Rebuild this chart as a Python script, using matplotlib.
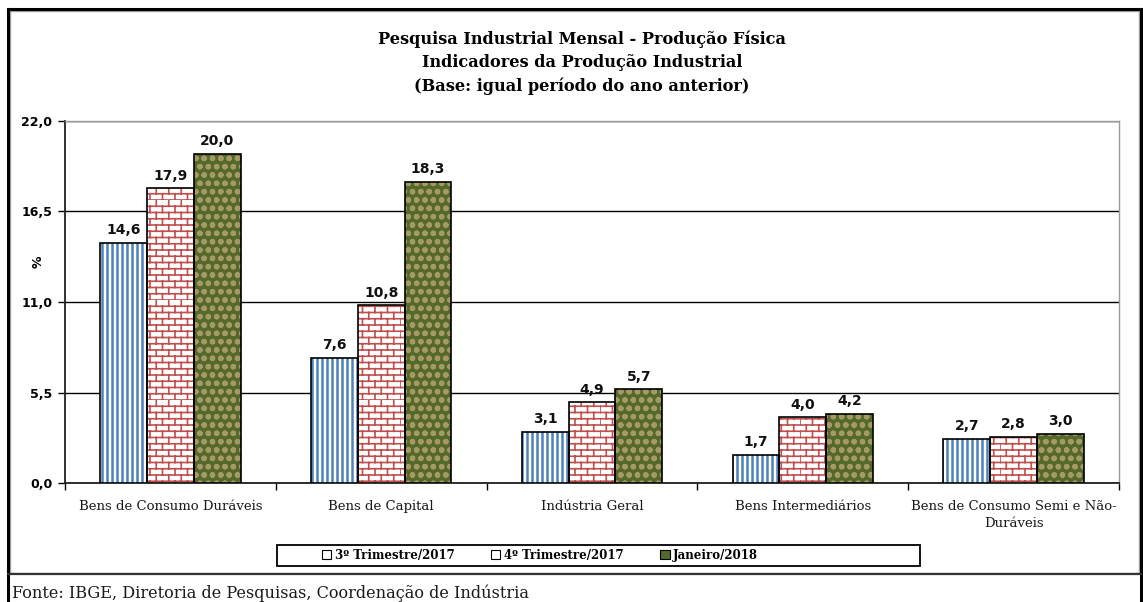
import warnings
import numpy as np
import matplotlib
matplotlib.use("Agg")
import matplotlib.pyplot as plt
import matplotlib.hatch as mhatch
from matplotlib.path import Path
from matplotlib.patches import Patch, Rectangle
from matplotlib.lines import Line2D

warnings.filterwarnings("ignore")

categorias = ["Bens de Consumo Duráveis", "Bens de Capital", "Indústria Geral",
              "Bens Intermediários", "Bens de Consumo Semi e Não-\nDuráveis"]
tri3_2017 = [14.6, 7.6, 3.1, 1.7, 2.7]
tri4_2017 = [17.9, 10.8, 4.9, 4.0, 2.8]
jan_2018 = [20.0, 18.3, 5.7, 4.2, 3.0]
series_nomes = ["3º Trimestre/2017", "4º Trimestre/2017", "Janeiro/2018"]
y_ticks = [0.0, 5.5, 11.0, 16.5, 22.0]


# hachura de tijolos (nao existe no matplotlib)
class BrickHatch(mhatch.HatchPatternBase):
    def __init__(self, hatch, density):
        self.on = hatch.count('b') > 0
        self.rows = 16
        self.cols = 8
        if self.on:
            self.num_vertices = 2 * self.rows + 2 * self.rows * self.cols
        else:
            self.num_vertices = 0

    def set_vertices_and_codes(self, vertices, codes):
        k = 0
        for i in range(self.rows):
            y0 = i / self.rows
            y1 = (i + 1) / self.rows
            vertices[k] = (0, y0); vertices[k + 1] = (1, y0)
            codes[k] = Path.MOVETO; codes[k + 1] = Path.LINETO
            k += 2
            for j in range(self.cols):
                x = (j + 0.5 * (i % 2)) / self.cols
                vertices[k] = (x, y0); vertices[k + 1] = (x, y1)
                codes[k] = Path.MOVETO; codes[k + 1] = Path.LINETO
                k += 2


# listras verticais
class StripeHatch(mhatch.HatchPatternBase):
    def __init__(self, hatch, density):
        self.on = hatch.count('s') > 0
        self.n = 20
        self.num_vertices = 2 * self.n if self.on else 0

    def set_vertices_and_codes(self, vertices, codes):
        for i in range(self.n):
            x = (i + 0.5) / self.n
            vertices[2 * i] = (x, 0); vertices[2 * i + 1] = (x, 1)
            codes[2 * i] = Path.MOVETO; codes[2 * i + 1] = Path.LINETO


mhatch._hatch_types.append(BrickHatch)
mhatch._hatch_types.append(StripeHatch)

W, H = 1143, 602
fig = plt.figure(figsize=(W / 100, H / 100), dpi=100)
ax = fig.add_axes([65 / W, 1 - 483 / H, (1119 - 65) / W, (483 - 121) / H])

x = np.arange(len(categorias))
w = 0.222

estilos = [
    dict(face='white', hcolor='#4f81bd', hatch='s', hlw=1.8),
    dict(face='white', hcolor='#c0504d', hatch='b', hlw=1.2),
    dict(face='#55692b', hcolor='#a59a66', hatch='oo', hlw=1.6),
]
dados = [tri3_2017, tri4_2017, jan_2018]

for k, (vals, st) in enumerate(zip(dados, estilos)):
    pos = x + (k - 1) * w
    with plt.rc_context({'hatch.linewidth': st['hlw']}):
        ax.bar(pos, vals, w, color=st['face'], edgecolor=st['hcolor'],
               hatch=st['hatch'], linewidth=0, zorder=3)
    ax.bar(pos, vals, w, fill=False, edgecolor='black', linewidth=1.2, zorder=4)
    for xi, v in zip(pos, vals):
        ax.annotate(f"{v:.1f}".replace('.', ','), (xi, v), xytext=(0, 4),
                    textcoords='offset points', ha='center', va='bottom',
                    fontsize=10, fontweight='bold', color='#111111')

ax.set_xlim(-0.5, len(categorias) - 0.5)
ax.set_ylim(0, 22)
ax.set_yticks(y_ticks)
ax.set_yticklabels([f"{t:.1f}".replace('.', ',') for t in y_ticks],
                   fontsize=9, fontweight='bold')
ax.yaxis.grid(True, color='black', linewidth=1.0, zorder=1)
ax.set_axisbelow(True)

ax.set_xticks(x)
ax.set_xticklabels(categorias, fontsize=9.5, family='DejaVu Serif', color='#1a1a1a',
                   linespacing=1.45)
ax.set_xticks(np.arange(len(categorias) + 1) - 0.5, minor=True)
ax.tick_params(axis='x', which='major', length=0, pad=12)
ax.tick_params(axis='x', which='minor', length=5, width=1, direction='out')
ax.tick_params(axis='y', length=5, width=1, direction='out', pad=4)

for s in ['top', 'right']:
    ax.spines[s].set_color('#9a9a9a')
    ax.spines[s].set_linewidth(1.0)
for s in ['left', 'bottom']:
    ax.spines[s].set_color('#202020')
    ax.spines[s].set_linewidth(1.3)

fig.text(38 / W, 1 - 262 / H, "%", rotation=90, ha='center', va='center',
         fontsize=9, fontweight='bold')

fig.text(582 / W, 1 - 31 / H,
         "Pesquisa Industrial Mensal - Produção Física\n"
         "Indicadores da Produção Industrial\n"
         "(Base: igual período do ano anterior)",
         ha='center', va='top', fontsize=11.6, fontweight='bold',
         family='DejaVu Serif', linespacing=1.45)

# legenda
handles = []
for st in estilos:
    handles.append(Patch(facecolor=st['face'], edgecolor='black', linewidth=0.8))
leg = fig.legend(handles, series_nomes, loc='center left',
                 bbox_to_anchor=(311 / W, 1 - 555 / H), ncol=3, frameon=False,
                 handlelength=0.8, handleheight=0.8, handletextpad=0.3,
                 columnspacing=3.1, prop={'family': 'DejaVu Serif', 'weight': 'bold',
                                          'size': 8.5})
fig.add_artist(Rectangle((277 / W, 1 - 566 / H), (920 - 277) / W, 21 / H,
                         transform=fig.transFigure, fill=False,
                         edgecolor='black', linewidth=1.3))

# moldura
fig.add_artist(Rectangle((10 / W, 1 - 573 / H), (1139 - 10) / W, (573 - 11) / H,
                         transform=fig.transFigure, fill=False,
                         edgecolor='#a0a0a0', linewidth=1.0))
fig.add_artist(Line2D([8 / W, 8 / W], [0, 1 - 9 / H], transform=fig.transFigure,
                      color='black', linewidth=2.2))
fig.add_artist(Line2D([1141 / W, 1141 / W], [0, 1 - 9 / H], transform=fig.transFigure,
                      color='black', linewidth=2.2))
fig.add_artist(Line2D([8 / W, 1141 / W], [1 - 9 / H, 1 - 9 / H],
                      transform=fig.transFigure, color='black', linewidth=2.2))
fig.add_artist(Line2D([8 / W, 1141 / W], [1 - 574 / H, 1 - 574 / H],
                      transform=fig.transFigure, color='#333333', linewidth=1.6))

fig.text(12 / W, 1 - 593 / H,
         "Fonte: IBGE, Diretoria de Pesquisas, Coordenação de Indústria",
         ha='left', va='center', fontsize=11.6, family='DejaVu Serif', color='#1a1a1a')

fig.savefig("out.png", dpi=100, facecolor='white')
